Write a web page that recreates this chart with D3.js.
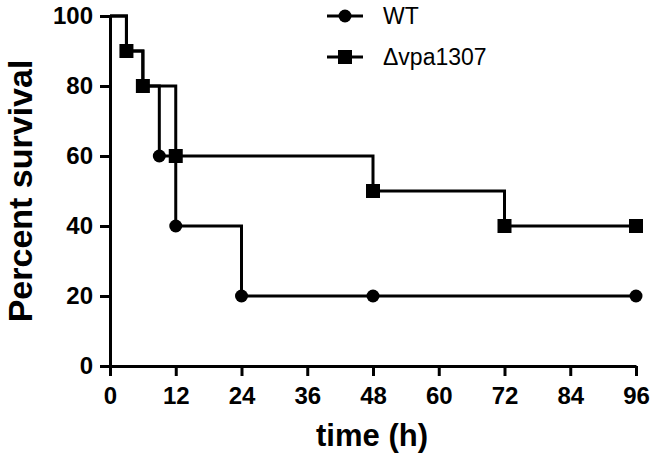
<!DOCTYPE html>
<html><head><meta charset="utf-8">
<script src="https://cdn.jsdelivr.net/npm/d3@7"></script>
<style>body{margin:0;background:#fff}</style>
</head><body>
<svg id="c" width="656" height="463"></svg>
<script>
const xTicks = [0,12,24,36,48,60,72,84,96];
const yTicks = [0,20,40,60,80,100];
const wtTimes = [0,3,6,9,12,24,48,96];
const wtSurvival = [100,90,80,60,40,20,20,20];
const mutTimes = [0,3,6,12,48,72,96];
const mutSurvival = [100,90,80,60,50,40,40];
const seriesNames = ["WT","\u0394vpa1307"];

const svg = d3.select("#c");
const x = d3.scaleLinear().domain([0,96]).range([110,636]);
const y = d3.scaleLinear().domain([0,100]).range([366,16]);
const font = "'Liberation Sans', Arial, sans-serif";

const xa = svg.append("g").attr("transform","translate(0,366)")
  .call(d3.axisBottom(x).tickValues(xTicks).tickSize(10).tickPadding(11).tickSizeOuter(0));
const ya = svg.append("g").attr("transform","translate(110,0)")
  .call(d3.axisLeft(y).tickValues(yTicks).tickSize(10).tickPadding(7).tickSizeOuter(0));
[xa,ya].forEach(a=>{
  a.selectAll("path,line").attr("stroke","#000").attr("stroke-width",3);
  a.selectAll("text").attr("font-family",font).attr("font-weight","bold").attr("font-size",24).attr("fill","#000");
});
ya.select("path").attr("stroke-linecap","square");

svg.append("text").attr("x",372).attr("y",446).attr("text-anchor","middle")
  .attr("font-family",font).attr("font-weight","bold").attr("font-size",31).text("time (h)");
svg.append("text").attr("transform","translate(32,191) rotate(-90)").attr("text-anchor","middle")
  .attr("font-family",font).attr("font-weight","bold").attr("font-size",34).text("Percent survival");

const line = d3.line().x(d=>x(d[0])).y(d=>y(d[1])).curve(d3.curveStepAfter);
const wt = wtTimes.map((t,i)=>[t,wtSurvival[i]]);
const mut = mutTimes.map((t,i)=>[t,mutSurvival[i]]);

function drawSeries(data, shape){
  svg.append("path").datum(data).attr("d",line).attr("fill","none").attr("stroke","#000").attr("stroke-width",3);
  const pts = data.slice(1);
  if(shape==="circle"){
    svg.selectAll(null).data(pts).join("circle").attr("cx",d=>x(d[0])).attr("cy",d=>y(d[1])).attr("r",6.5).attr("fill","#000");
  } else {
    svg.selectAll(null).data(pts).join("rect").attr("x",d=>x(d[0])-7).attr("y",d=>y(d[1])-7).attr("width",14).attr("height",14).attr("fill","#000");
  }
}
drawSeries(wt,"circle");
drawSeries(mut,"square");

// legend
const ly = [16,57];
seriesNames.forEach((n,i)=>{
  svg.append("line").attr("x1",327).attr("x2",363).attr("y1",ly[i]).attr("y2",ly[i]).attr("stroke","#000").attr("stroke-width",3);
  if(i===0) svg.append("circle").attr("cx",345).attr("cy",ly[i]).attr("r",6.5).attr("fill","#000");
  else svg.append("rect").attr("x",338).attr("y",ly[i]-7).attr("width",14).attr("height",14).attr("fill","#000");
  svg.append("text").attr("x",383).attr("y",ly[i]+8).attr("font-family",font).attr("font-size",23).text(n);
});
</script>
</body></html>
